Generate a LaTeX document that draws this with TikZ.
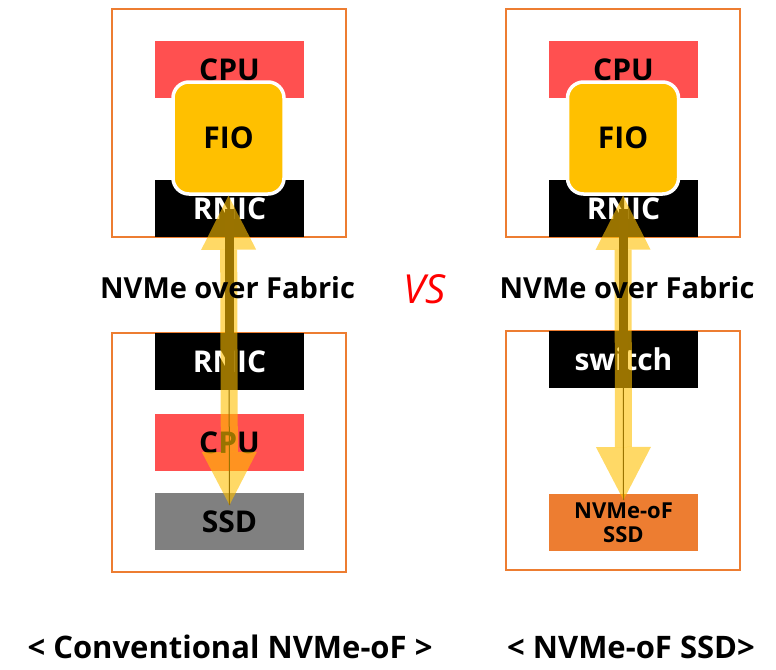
\documentclass[tikz,border=0pt]{standalone}
\usepackage{fontspec}
\setmainfont{Open Sans}
\usetikzlibrary{arrows.meta}

\definecolor{cpured}{HTML}{FF5050}
\definecolor{fioyellow}{HTML}{FFC000}
\definecolor{ssdgray}{HTML}{808080}
\definecolor{frameorange}{HTML}{ED7D31}
\definecolor{flowbrown}{HTML}{9A7300}

\begin{document}
\begin{tikzpicture}[x=1pt,y=-1pt,
  frame/.style={draw=frameorange, line width=2pt, minimum width=234pt, inner sep=0pt},
  part/.style={minimum width=149pt, minimum height=57pt, inner sep=0pt,
    font=\bfseries\fontsize{30}{30}\selectfont},
  fiobox/.style={fill=fioyellow, draw=white, line width=3.5pt, rounded corners=16pt,
    minimum width=111pt, minimum height=112pt, inner sep=0pt,
    font=\bfseries\fontsize{30}{30}\selectfont},
  flow/.style={{Triangle[width=55pt,length=54pt,line width=0pt]}-{Triangle[width=55pt,length=53pt,line width=0pt]},
    line width=17pt, draw=fioyellow, opacity=0.6},
  label/.style={font=\bfseries\fontsize{29}{29}\selectfont},
  caption/.style={font=\bfseries\fontsize{31}{31}\selectfont}]

\useasboundingbox (0,0) rectangle (776,669);

% frames
\node[frame, minimum height=228pt] (host1) at (229,123) {};
\node[frame, minimum height=239pt] (target1) at (229,452.5) {};
\node[frame, minimum height=228pt] (host2) at (622.5,123) {};
\node[frame, minimum height=239pt] (target2) at (622.5,450.5) {};

% conventional NVMe-oF
\node[part, fill=cpured] (cpu1) at (229.5,69.5) {CPU};
\node[part, fill=black, text=white] (rnic1) at (229.5,208.5) {RNIC};
\node[fiobox] (fio1) at (228.5,138) {FIO};
\node[part, fill=black, text=white] (rnic2) at (229.5,361.5) {RNIC};
\node[part, fill=cpured] (cpu2) at (229.5,442.5) {CPU};
\node[part, fill=ssdgray] (ssd1) at (229.5,521.5) {SSD};

% NVMe-oF SSD
\node[part, fill=cpured] (cpu3) at (623.5,69.5) {CPU};
\node[part, fill=black, text=white] (rnic3) at (623.5,208.5) {RNIC};
\node[fiobox] (fio2) at (623,138) {FIO};
\node[part, fill=black, text=white] (switch1) at (623.5,359.5) {switch};
\node[part, fill=frameorange, align=center,
  font=\bfseries\fontsize{22}{24}\selectfont] (ssd2) at (623.5,522.5) {NVMe-oF\\SSD};

% arrows
\coordinate (tip1) at (229.5,505);
\coordinate (tip2) at (623.5,500);
\draw[flow] (fio1.south) -- (tip1);
\draw[flowbrown, line width=9pt] (rnic1.center) -- (rnic2.south);
\draw[flowbrown, line width=1pt] (fio1.south) -- (tip1);
\draw[flow] (fio2.south) -- (tip2);
\draw[flowbrown, line width=9pt] (rnic3.center) -- (switch1.south);
\draw[flowbrown, line width=1pt] (fio2.south) -- (tip2);

% labels
\node[label] (fabric1) at (227.5,288) {NVMe over Fabric};
\node[label] (fabric2) at (627,288) {NVMe over Fabric};
\node[font=\itshape\fontsize{40}{40}\selectfont, text=red] (vs) at (425,289) {VS};
\node[caption] (conv) at (230,647) {< Conventional NVMe-oF >};
\node[caption] (nvssd) at (631,647) {< NVMe-oF SSD>};
\end{tikzpicture}
\end{document}
